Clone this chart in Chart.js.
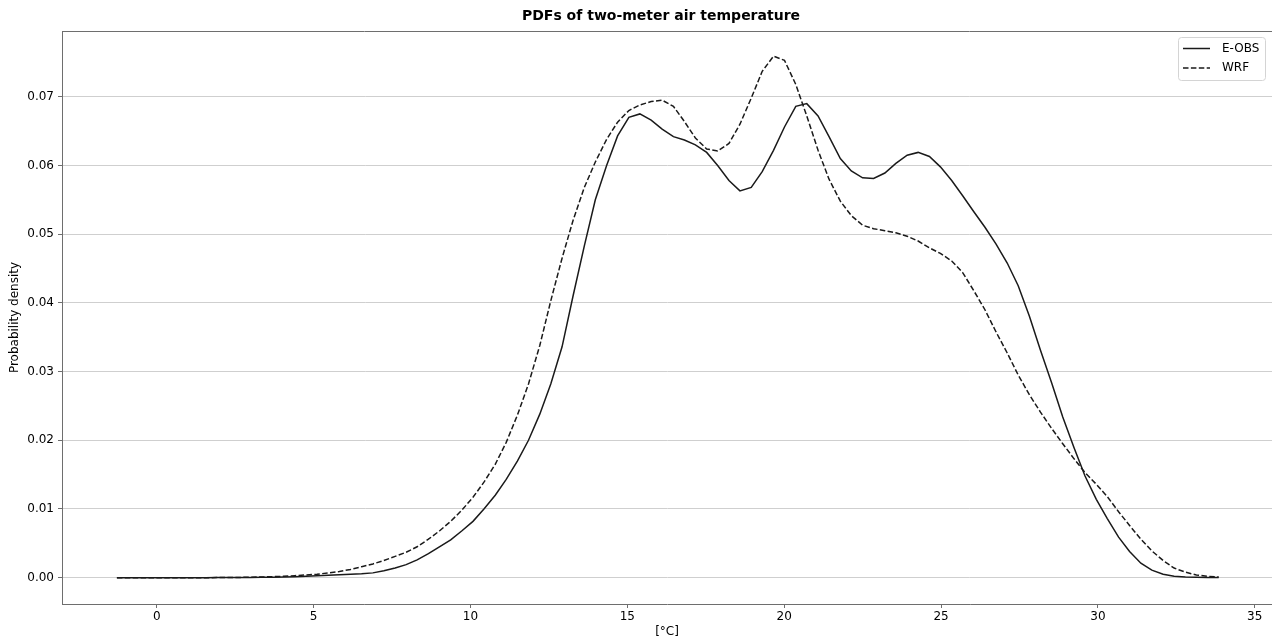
<!DOCTYPE html>
<html>
<head>
<meta charset="utf-8">
<script src="https://cdn.jsdelivr.net/npm/chart.js@4.4.1/dist/chart.umd.min.js"></script>
<style>
  html, body { margin: 0; padding: 0; background: #fff; }
  canvas { display: block; }
</style>
</head>
<body>
<canvas id="graficoPdf" width="1272" height="640"></canvas>
<script>
// temperatura (°C) de cada punto de las curvas
const temperaturas = [
  -1.27, -0.92, -0.57, -0.21, 0.14, 0.50, 0.85, 1.21, 1.56, 1.92,
  2.27, 2.63, 2.98, 3.34, 3.69, 4.05, 4.40, 4.76, 5.11, 5.47,
  5.82, 6.18, 6.53, 6.89, 7.24, 7.60, 7.95, 8.30, 8.66, 9.01,
  9.37, 9.72, 10.08, 10.43, 10.79, 11.14, 11.50, 11.85, 12.21, 12.56,
  12.92, 13.27, 13.63, 13.98, 14.34, 14.69, 15.05, 15.40, 15.76, 16.11,
  16.47, 16.82, 17.17, 17.53, 17.88, 18.24, 18.59, 18.95, 19.30, 19.66,
  20.01, 20.37, 20.72, 21.08, 21.43, 21.79, 22.14, 22.50, 22.85, 23.21,
  23.56, 23.92, 24.27, 24.63, 24.98, 25.34, 25.69, 26.04, 26.40, 26.75,
  27.11, 27.46, 27.82, 28.17, 28.53, 28.88, 29.24, 29.59, 29.95, 30.30,
  30.66, 31.01, 31.37, 31.72, 32.08, 32.43, 32.79, 33.14, 33.50, 33.85
];

const eobs = [
  0, 0, 0, 0, 0, 0, 0, 0, 0, 0.00001,
  0.00001, 0.00002, 0.00003, 0.00005, 0.00007, 0.0001, 0.00014, 0.0002, 0.00027, 0.00035,
  0.00043, 0.0005, 0.00057, 0.0007, 0.0010, 0.0014, 0.0019, 0.0026, 0.0035, 0.0045,
  0.0055, 0.0068, 0.0082, 0.0100, 0.0120, 0.0143, 0.0170, 0.0200, 0.0238, 0.0282,
  0.0336, 0.0410, 0.0483, 0.0550, 0.0600, 0.0643, 0.0670, 0.0675, 0.0666, 0.0653,
  0.0642, 0.0637, 0.0630, 0.0619, 0.0600, 0.0578, 0.0563, 0.0568, 0.0591, 0.0622,
  0.0656, 0.0686, 0.0690, 0.0672, 0.0642, 0.0610, 0.0592, 0.0582, 0.0581, 0.0589,
  0.0603, 0.0615, 0.0619, 0.0613, 0.0598, 0.0578, 0.0556, 0.0533, 0.0510, 0.0486,
  0.0458, 0.0425, 0.0380, 0.0331, 0.0283, 0.0234, 0.0189, 0.0148, 0.0114, 0.0086,
  0.0059, 0.0038, 0.0021, 0.0011, 0.0005, 0.0002, 0.0001, 0.00005, 0.00002, 0.00001
];

const wrf = [
  0, 0, 0, 0, 0, 0, 0, 0, 0, 0.00001,
  0.00002, 0.00004, 0.00006, 0.0001, 0.00015, 0.0002, 0.0003, 0.0004, 0.0005, 0.0007,
  0.0009, 0.0012, 0.0016, 0.0020, 0.0025, 0.0031, 0.0037, 0.0045, 0.0056, 0.0068,
  0.0082, 0.0098, 0.0117, 0.0139, 0.0165, 0.0197, 0.0237, 0.0282, 0.0338, 0.0403,
  0.0465, 0.0520, 0.0568, 0.0605, 0.0638, 0.0663, 0.0680, 0.0688, 0.0693, 0.0695,
  0.0686, 0.0664, 0.0640, 0.0624, 0.0621, 0.0632, 0.0660, 0.0698, 0.0737, 0.0759,
  0.0753, 0.0718, 0.0672, 0.0622, 0.0580, 0.0548, 0.0527, 0.0513, 0.0508, 0.0505,
  0.0502, 0.0497, 0.0490, 0.0480, 0.0472, 0.0461, 0.0444, 0.0418, 0.0390, 0.0358,
  0.0327, 0.0295, 0.0266, 0.0241, 0.0217, 0.0195, 0.0173, 0.0153, 0.0136, 0.0118,
  0.0096, 0.0076, 0.0056, 0.0039, 0.0025, 0.0014, 0.0008, 0.0004, 0.0002, 0.0001
];

const ticksX = [0, 5, 10, 15, 20, 25, 30, 35];
const ticksY = [0, 0.01, 0.02, 0.03, 0.04, 0.05, 0.06, 0.07];

const titulo = "PDFs of two-meter air temperature";
const etiquetaX = "[°C]";
const etiquetaY = "Probability density";
const nombres = ["E-OBS", "WRF"];

const fuente = "'DejaVu Sans', sans-serif";
const colorLinea = "#1a1a1a";
const colorEje = "#6e6e6e";

function puntos(ys) { return temperaturas.map((t, i) => ({ x: t, y: ys[i] })); }

// marco superior, titulo y leyenda dentro del area
const marcoPlugin = {
  id: "marco",
  afterDraw(chart) {
    const ctx = chart.ctx;
    const a = chart.chartArea;
    ctx.save();
    ctx.strokeStyle = colorEje;
    ctx.lineWidth = 1;
    ctx.beginPath();
    ctx.moveTo(a.left, a.top + 0.5);
    ctx.lineTo(a.right, a.top + 0.5);
    ctx.stroke();

    ctx.fillStyle = "#000";
    ctx.font = "bold 14px " + fuente;
    ctx.textAlign = "center";
    ctx.textBaseline = "middle";
    ctx.fillText(titulo, (a.left + a.right) / 2 - 6, 16);

    // leyenda
    const lx = 1178.5, ly = 37.5, lw = 87, lh = 43;
    ctx.fillStyle = "rgba(255,255,255,0.85)";
    ctx.strokeStyle = "#d4d4d4";
    ctx.beginPath();
    ctx.roundRect(lx, ly, lw, lh, 3);
    ctx.fill();
    ctx.stroke();
    const estilos = [[], [5.5, 2.4]];
    ctx.font = "12px " + fuente;
    ctx.textAlign = "left";
    nombres.forEach((n, i) => {
      const y = 48.5 + i * 19.5;
      ctx.strokeStyle = colorLinea;
      ctx.lineWidth = 1.5;
      ctx.setLineDash(estilos[i]);
      ctx.beginPath();
      ctx.moveTo(1183, y);
      ctx.lineTo(1210, y);
      ctx.stroke();
      ctx.setLineDash([]);
      ctx.fillStyle = "#000";
      ctx.fillText(n, 1222, y);
    });
    ctx.restore();
  }
};

new Chart(document.getElementById("graficoPdf").getContext("2d"), {
  type: "line",
  data: {
    datasets: [
      { label: nombres[0], data: puntos(eobs), borderColor: colorLinea, borderWidth: 1.5, pointRadius: 0, tension: 0, fill: false },
      { label: nombres[1], data: puntos(wrf), borderColor: colorLinea, borderWidth: 1.5, borderDash: [5.5, 2.4], pointRadius: 0, tension: 0, fill: false }
    ]
  },
  options: {
    responsive: false,
    animation: false,
    devicePixelRatio: 1,
    layout: { padding: { top: 31, right: 0, bottom: 0, left: 0 } },
    plugins: { legend: { display: false }, title: { display: false }, tooltip: { enabled: false } },
    scales: {
      x: {
        type: "linear",
        min: -3.02,
        max: 35.55,
        afterBuildTicks: s => { s.ticks = ticksX.map(v => ({ value: v })); },
        afterFit: s => { s.height = 36; },
        grid: { drawOnChartArea: false, drawTicks: true, tickLength: 4, tickColor: colorEje },
        border: { display: true, color: colorEje, width: 1 },
        ticks: { color: "#000", padding: 2, font: { family: fuente, size: 12 }, callback: v => String(v) },
        title: { display: true, text: etiquetaX, color: "#000", font: { family: fuente, size: 12 }, padding: { top: 0, bottom: 1 } }
      },
      y: {
        type: "linear",
        min: -0.00383,
        max: 0.07957,
        afterBuildTicks: s => { s.ticks = ticksY.map(v => ({ value: v })); },
        afterFit: s => { s.width = 62; },
        grid: { color: "#cfcfcf", lineWidth: 1, drawTicks: true, tickLength: 4, tickColor: colorEje },
        border: { display: true, color: colorEje, width: 1 },
        ticks: { color: "#000", padding: 4, font: { family: fuente, size: 12 }, callback: v => v.toFixed(2) },
        title: { display: true, text: etiquetaY, color: "#000", font: { family: fuente, size: 12 }, padding: { top: 8, bottom: 0 } }
      }
    }
  },
  plugins: [marcoPlugin]
});
</script>
</body>
</html>
